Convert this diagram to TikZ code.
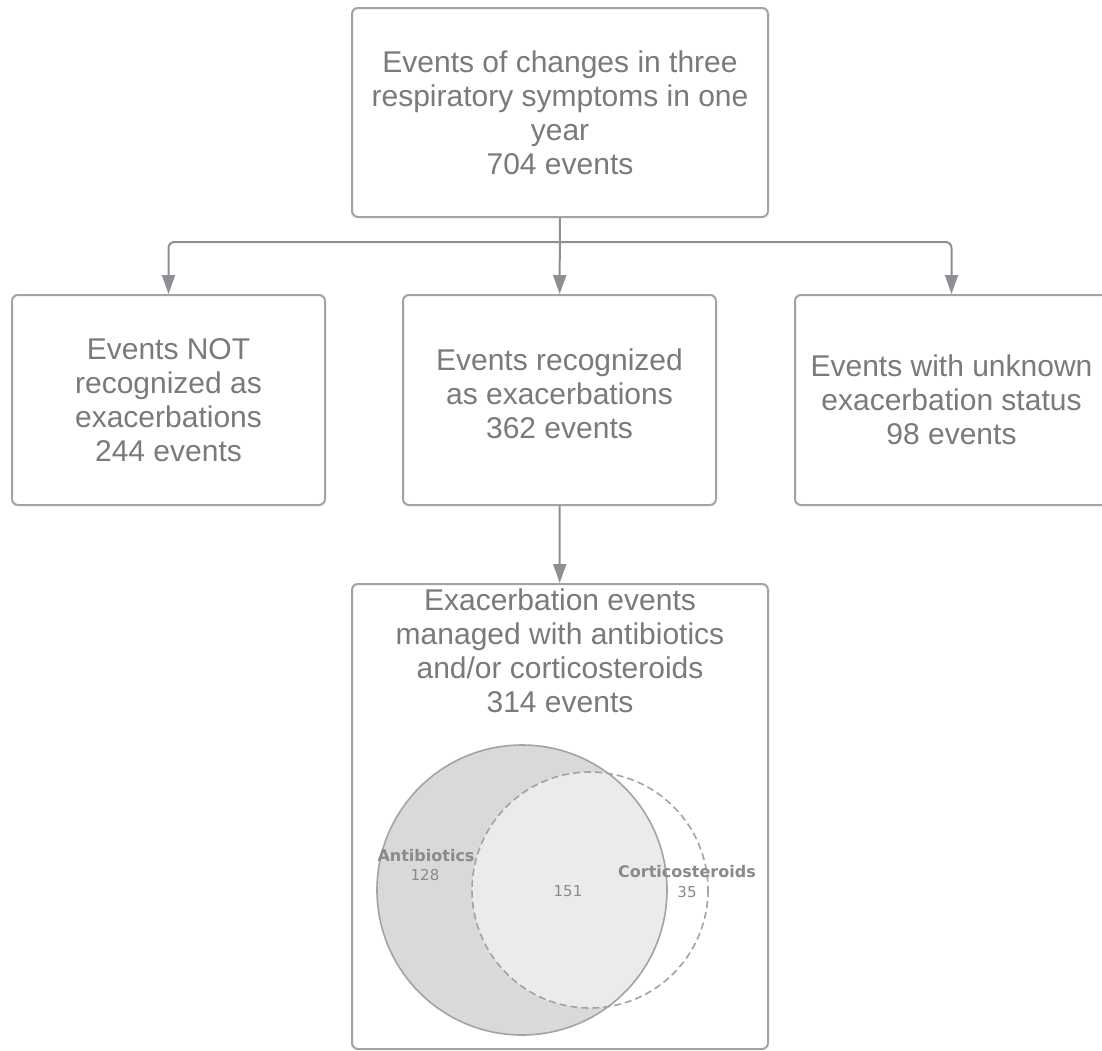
\documentclass[tikz,border=0pt]{standalone}
\usepackage{fontspec}
\setmainfont{Liberation Sans}
\newfontfamily\vennfont{DejaVu Sans}
\definecolor{txtg}{HTML}{7A7A7A}
\definecolor{edge}{HTML}{A3A3A3}
\definecolor{arw}{HTML}{8C8F94}
\definecolor{abx}{HTML}{D9D9D9}
\definecolor{both}{HTML}{EBEBEB}
\definecolor{vlab}{HTML}{8A8A8A}
\usetikzlibrary{arrows.meta,positioning}

\begin{document}
\begin{tikzpicture}[x=1pt, y=-1pt,
  box/.style={rectangle, rounded corners=6pt, draw=edge, line width=2pt, fill=white,
              minimum width=313pt, minimum height=210pt, align=center,
              font=\fontsize{30}{34}\selectfont, text=txtg},
  ar/.style={-{Triangle[length=19pt, width=13pt]}, line width=2pt, color=arw},
  vname/.style={font=\vennfont\bfseries\fontsize{16}{18}\selectfont, text=vlab, inner sep=0pt},
  vnum/.style={font=\vennfont\fontsize{15}{17}\selectfont, text=vlab, inner sep=0pt},
]
\useasboundingbox (0,0) rectangle (1102,1050);
\clip (0,0) rectangle (1102,1050);

% boxes
\node[box, minimum width=416pt, minimum height=209pt] (all) at (560,112.5)
  {Events of changes in three\\respiratory symptoms in one\\year\\704 events};
\node[box] (notx) at (168.5,400) {Events NOT\\recognized as\\exacerbations\\244 events};
\node[box] (exac) at (559.5,400) {Events recognized\\as exacerbations\\362 events\\[-22pt]};
\node[box] (unk) at (951.5,400) {Events with unknown\\exacerbation status\\98 events};
\node[box, minimum width=416pt, minimum height=465pt, anchor=north] (mgd) at (560,583) {};
\node[align=center, font=\fontsize{30}{34}\selectfont, text=txtg, below=2pt of mgd.north] (mgdtxt)
  {Exacerbation events\\managed with antibiotics\\and/or corticosteroids\\314 events};

% connectors
\coordinate (split) at (560,242);
\draw[ar] (all) -- (exac);
\draw[ar, rounded corners=6pt] (split) -| (notx.north);
\draw[ar, rounded corners=6pt] (split) -| (unk.north);
\draw[ar] (exac) -- (mgd);

% venn
\coordinate (ca) at (522,890);
\coordinate (cc) at (590,890);
\fill[abx] (ca) circle[radius=145];
\begin{scope}
  \clip (ca) circle[radius=145];
  \fill[both] (cc) circle[radius=118];
\end{scope}
\draw[edge, line width=1.6pt] (ca) circle[radius=145];
\draw[edge, line width=1.6pt, dash pattern=on 7pt off 4pt] (cc) circle[radius=118];
\node[vname] (abxl) at (426,856) {Antibiotics};
\node[vnum] (abxn) at (425,875) {128};
\node[vnum] (bothn) at (568,891) {151};
\node[vname] (csl) at (687,872) {Corticosteroids};
\node[vnum] (csn) at (687,892) {35};
\end{tikzpicture}
\end{document}
